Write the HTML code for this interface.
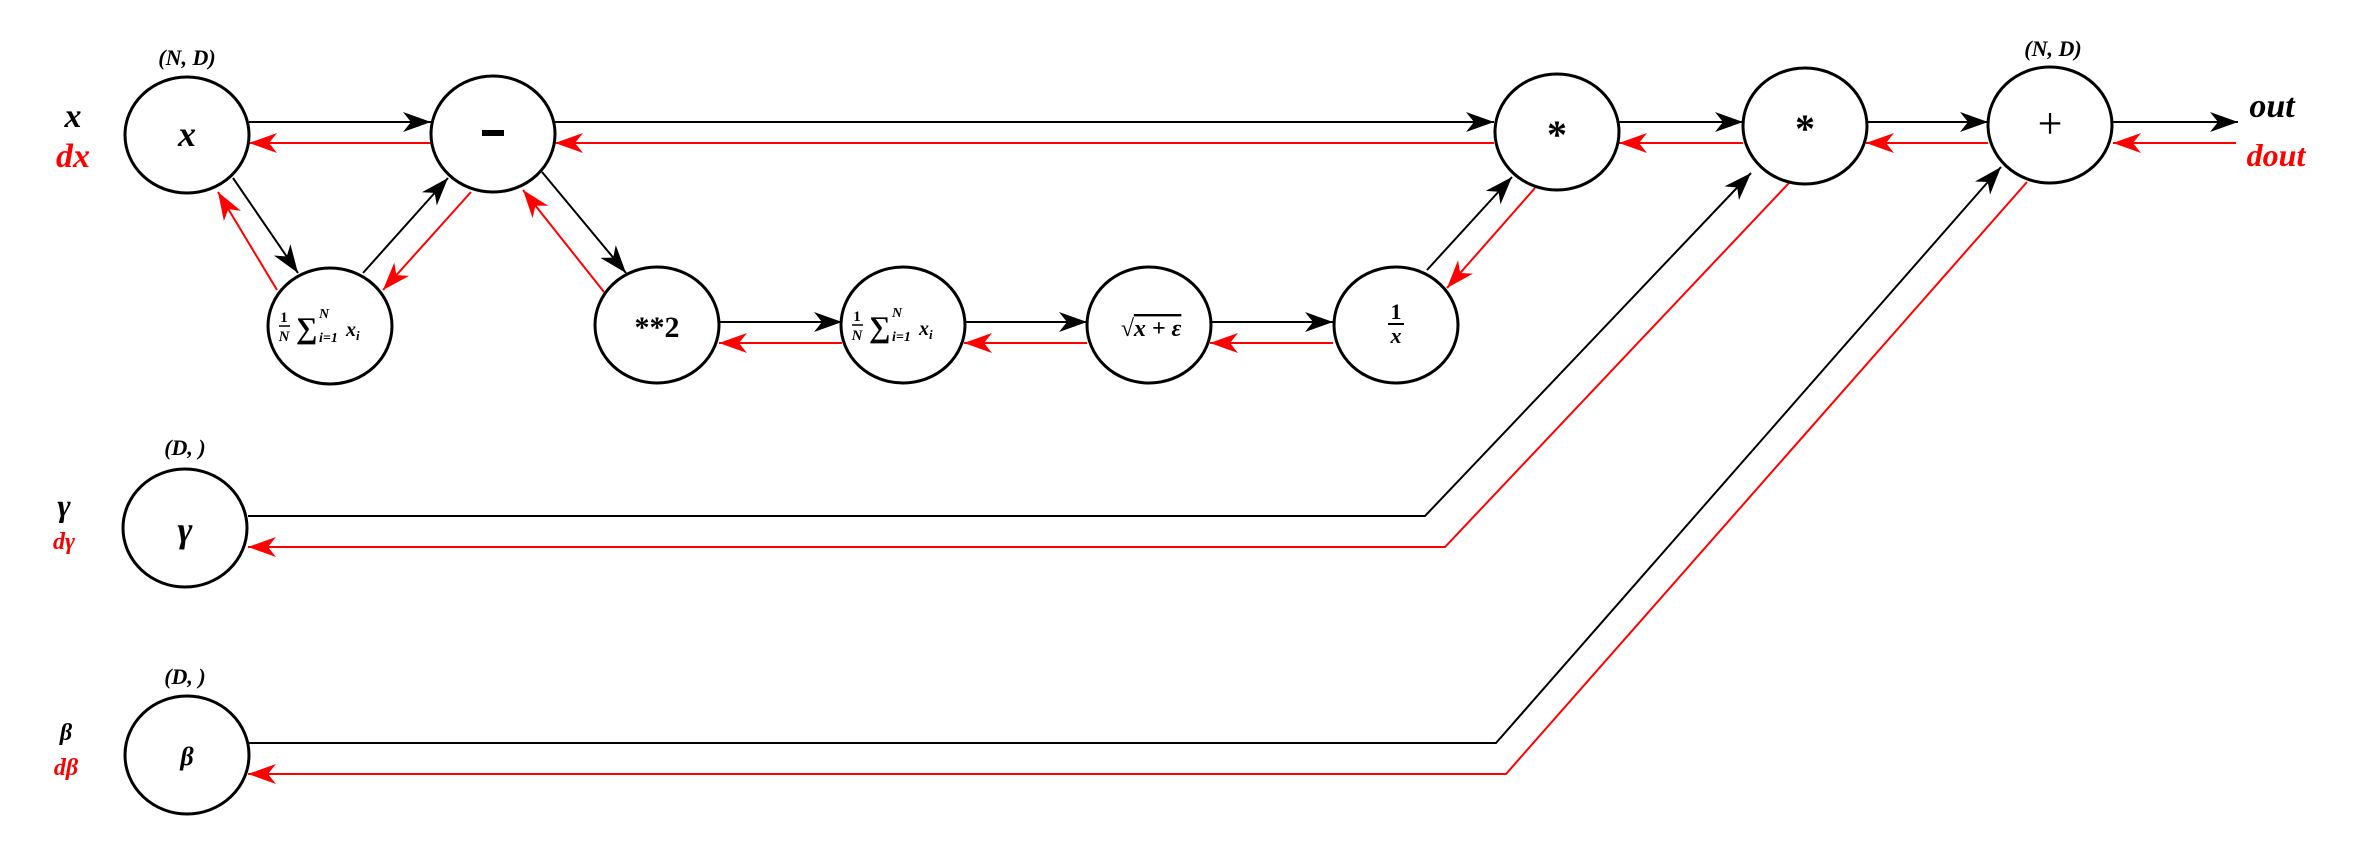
<!DOCTYPE html>
<html><head><meta charset="utf-8"><style>
html,body{margin:0;padding:0;background:#fff;}
svg{display:block;}
text{font-family:"Liberation Serif",serif;font-weight:bold;}
.i{font-style:italic;}
</style></head><body>
<svg width="2358" height="854" viewBox="0 0 2358 854" xmlns="http://www.w3.org/2000/svg">
<defs>
<marker id="ab" markerUnits="userSpaceOnUse" markerWidth="34" markerHeight="24" refX="30" refY="12" orient="auto" viewBox="0 0 34 24">
<path d="M30,12 L2,2 L10,12 L2,22 Z" fill="#000"/></marker>
<marker id="ar" markerUnits="userSpaceOnUse" markerWidth="34" markerHeight="24" refX="30" refY="12" orient="auto" viewBox="0 0 34 24">
<path d="M30,12 L2,2 L10,12 L2,22 Z" fill="#f00"/></marker>
</defs>
<g fill="none" stroke-width="2">
<!-- black forward -->
<g stroke="#000" marker-end="url(#ab)">
<line x1="249" y1="122" x2="431" y2="122"/>
<line x1="555" y1="122" x2="1494" y2="122"/>
<line x1="1619" y1="122" x2="1743" y2="122"/>
<line x1="1866" y1="122" x2="1988" y2="122"/>
<line x1="2113" y1="122" x2="2238" y2="122"/>
<line x1="719" y1="322" x2="842" y2="322"/>
<line x1="964" y1="322" x2="1087" y2="322"/>
<line x1="1210" y1="322" x2="1333" y2="322"/>
<line x1="233" y1="178" x2="298" y2="273"/>
<line x1="363" y1="273" x2="448" y2="178"/>
<line x1="542" y1="172" x2="626" y2="273"/>
<line x1="1427" y1="270" x2="1512" y2="177"/>
<polyline points="248,516 1425,516 1751,173"/>
<polyline points="248,743 1496,743 2001,167"/>
</g>
<g stroke="#f00" marker-end="url(#ar)">
<line x1="431" y1="143" x2="249" y2="143"/>
<line x1="1494" y1="143" x2="555" y2="143"/>
<line x1="1743" y1="143" x2="1619" y2="143"/>
<line x1="1988" y1="143" x2="1866" y2="143"/>
<line x1="2236" y1="143" x2="2113" y2="143"/>
<line x1="842" y1="343" x2="719" y2="343"/>
<line x1="1087" y1="343" x2="964" y2="343"/>
<line x1="1333" y1="343" x2="1210" y2="343"/>
<line x1="277" y1="290" x2="218" y2="192"/>
<line x1="471" y1="192" x2="383" y2="290"/>
<line x1="604" y1="292" x2="523" y2="190"/>
<line x1="1535" y1="188" x2="1447" y2="288"/>
<polyline points="1789,183 1445,547 248,547"/>
<polyline points="2027,182 1506,774 248,774"/>
</g>
<g stroke="#000" stroke-width="3" fill="#fff">
<ellipse cx="187" cy="135" rx="62" ry="58"/>
<ellipse cx="493" cy="134" rx="62" ry="58"/>
<ellipse cx="330" cy="326" rx="62" ry="58"/>
<ellipse cx="657" cy="325" rx="62" ry="58"/>
<ellipse cx="903" cy="325" rx="62" ry="58"/>
<ellipse cx="1149" cy="325" rx="62" ry="58"/>
<ellipse cx="1396" cy="325" rx="62" ry="58"/>
<ellipse cx="1557" cy="132" rx="62" ry="58"/>
<ellipse cx="1805" cy="126" rx="62" ry="58"/>
<ellipse cx="2050" cy="125" rx="62" ry="58"/>
<ellipse cx="185" cy="528" rx="62" ry="59"/>
<ellipse cx="187" cy="755" rx="62" ry="59"/>
</g>
</g>
<g text-anchor="middle" fill="#000">
<text x="187" y="65" font-size="22" class="i">(N, D)</text>
<text x="2053" y="56" font-size="22" class="i">(N, D)</text>
<text x="185" y="455" font-size="22" class="i">(D, )</text>
<text x="185" y="684" font-size="22" class="i">(D, )</text>
<text x="73" y="127" font-size="34" class="i">x</text>
<text x="73" y="167" font-size="34" class="i" fill="#f00">dx</text>
<text x="64" y="516" font-size="32" class="i">γ</text>
<text x="64" y="549" font-size="24" class="i" fill="#f00">dγ</text>
<text x="66" y="740" font-size="24" class="i">β</text>
<text x="66" y="775" font-size="24" class="i" fill="#f00">dβ</text>
<text x="2272" y="117" font-size="34" class="i">out</text>
<text x="2276" y="166" font-size="32" class="i" fill="#f00">dout</text>
<text x="187" y="146" font-size="36" class="i">x</text>
<rect x="482" y="130" width="22" height="6" fill="#000"/>
<text x="1557" y="148" font-size="40">*</text>
<text x="1805" y="142" font-size="40">*</text>
<text x="2050" y="138" font-size="44" font-weight="normal" style="font-weight:normal">+</text>
<text x="657" y="337" font-size="30">**2</text>
<text x="185" y="542" font-size="36" class="i">γ</text>
<text x="187" y="765" font-size="26" class="i">β</text>
<text x="1151" y="336" font-size="24" class="i">√<tspan text-decoration="overline">x + ε</tspan></text>
<text x="1396" y="319" font-size="22">1</text>
<line x1="1388" y1="324" x2="1404" y2="324" stroke="#000" stroke-width="2"/>
<text x="1396" y="343" font-size="22" class="i">x</text>
</g>
<g fill="#000" font-weight="bold">
<text x="284" y="322" font-size="15" text-anchor="middle">1</text>
<line x1="279" y1="326" x2="290" y2="326" stroke="#000" stroke-width="1.5"/>
<text x="284" y="341" font-size="15" class="i" text-anchor="middle">N</text>
<text x="296" y="338" font-size="30">∑</text>
<text x="319" y="318" font-size="14" class="i">N</text>
<text x="319" y="342" font-size="14" class="i">i=1</text>
<text x="346" y="336" font-size="20" class="i">x<tspan font-size="13" dy="4">i</tspan></text>

<text x="857" y="321" font-size="15" text-anchor="middle">1</text>
<line x1="852" y1="325" x2="863" y2="325" stroke="#000" stroke-width="1.5"/>
<text x="857" y="340" font-size="15" class="i" text-anchor="middle">N</text>
<text x="869" y="337" font-size="30">∑</text>
<text x="892" y="317" font-size="14" class="i">N</text>
<text x="892" y="341" font-size="14" class="i">i=1</text>
<text x="919" y="335" font-size="20" class="i">x<tspan font-size="13" dy="4">i</tspan></text>
</g>
</svg>
</body></html>
